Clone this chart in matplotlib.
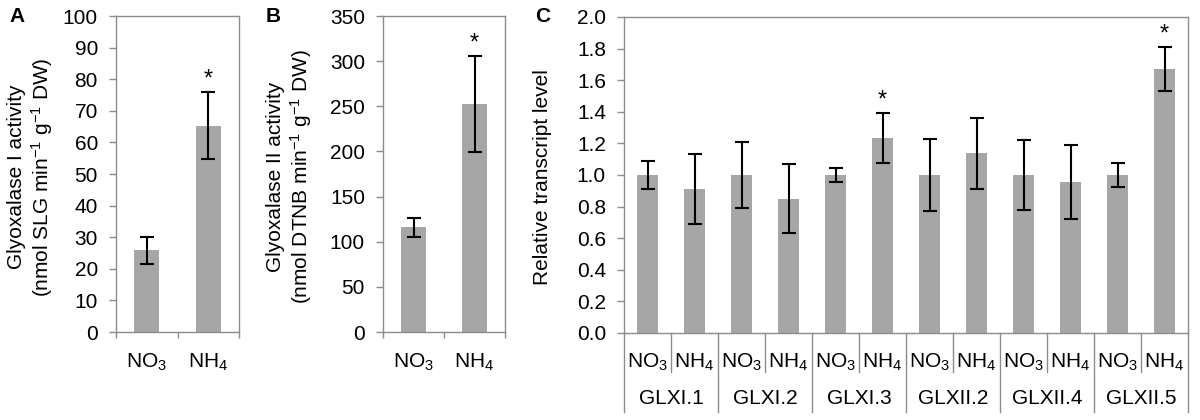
import numpy as np
import matplotlib
matplotlib.use('Agg')
import matplotlib.pyplot as plt

plt.rcParams['font.family'] = ['Liberation Sans', 'DejaVu Sans']
plt.rcParams['mathtext.fontset'] = 'custom'
plt.rcParams['mathtext.rm'] = 'Liberation Sans'
plt.rcParams['mathtext.it'] = 'Liberation Sans'
plt.rcParams['font.size'] = 15

# data
treatments = ['NO$_3$', 'NH$_4$']
glx1_activity = [25.8, 65.3]
glx1_err = [4.2, 10.7]
glx2_activity = [115.8, 252.7]
glx2_err = [10.2, 53.0]
glx1_signif = [False, True]
glx2_signif = [False, True]

genes = ['GLXI.1', 'GLXI.2', 'GLXI.3', 'GLXII.2', 'GLXII.4', 'GLXII.5']
transcript = [1.0, 0.91, 1.0, 0.85, 1.0, 1.236, 1.0, 1.137, 1.0, 0.956, 1.0, 1.669]
transcript_err = [0.09, 0.22, 0.21, 0.22, 0.045, 0.157, 0.225, 0.224, 0.222, 0.235, 0.075, 0.14]
transcript_signif = [False, False, False, False, False, True, False, False, False, False, False, True]

bar_color = '#a6a6a6'
spine_color = '#8c8c8c'

W, H = 1200, 420
fig = plt.figure(figsize=(12, 4.2), dpi=100)
axA = fig.add_axes([116 / W, 1 - 332 / H, 123 / W, 316 / H])
axB = fig.add_axes([383 / W, 1 - 332 / H, 122 / W, 316 / H])
axC = fig.add_axes([624 / W, 1 - 333 / H, 564 / W, 316 / H])


def style_axes(ax):
    for sp in ax.spines.values():
        sp.set_color(spine_color)
        sp.set_linewidth(1.0)
    ax.tick_params(axis='y', direction='out', length=5, color=spine_color, width=1.0, pad=8)


def star(ax, x, top, offset=1):
    ax.annotate('*', xy=(x, top), xytext=(0, offset), textcoords='offset points',
                ha='center', va='bottom', fontsize=17)


def draw_errors(ax, x, vals, errs):
    ax.errorbar(x, vals, yerr=errs, fmt='none', ecolor='black', elinewidth=1.5,
                capsize=4.7, capthick=1.5, zorder=3)


def activity_panel(ax, vals, errs, signif, ymax, step):
    x = np.arange(len(vals))
    ax.bar(x, vals, width=0.4, color=bar_color, zorder=2)
    draw_errors(ax, x, vals, errs)
    for i in range(len(vals)):
        if signif[i]:
            star(ax, x[i], vals[i] + errs[i])
    ax.set_xlim(-0.5, len(vals) - 0.5)
    ax.set_ylim(0, ymax)
    ax.set_yticks(np.arange(0, ymax + step / 2, step))
    ax.set_xticks(np.arange(-0.5, len(vals), 1.0))
    ax.set_xticklabels([])
    ax.tick_params(axis='x', direction='out', length=4, color=spine_color, width=1.0)
    for i, lab in enumerate(treatments):
        ax.text(x[i], -0.095, lab, transform=ax.get_xaxis_transform(),
                ha='center', va='center')
    style_axes(ax)


activity_panel(axA, glx1_activity, glx1_err, glx1_signif, 100, 10)
activity_panel(axB, glx2_activity, glx2_err, glx2_signif, 350, 50)

# panel C
n = len(transcript)
xc = np.arange(n)
axC.bar(xc, transcript, width=0.46, color=bar_color, zorder=2)
draw_errors(axC, xc, transcript, transcript_err)
for i in range(n):
    if transcript_signif[i]:
        star(axC, xc[i], transcript[i] + transcript_err[i])
axC.set_xlim(-0.5, n - 0.5)
axC.set_ylim(0, 2.0)
ticks = np.arange(0, 2.01, 0.2)
axC.set_yticks(ticks)
axC.set_yticklabels(['%.1f' % v for v in ticks])
axC.set_xticks([])
style_axes(axC)

trans = axC.get_xaxis_transform()
for i in range(n):
    axC.text(xc[i], -0.092, treatments[i % 2], transform=trans,
             ha='center', va='center')
for g, name in enumerate(genes):
    axC.text(2 * g + 0.5, -0.206, name, transform=trans,
             ha='center', va='center')
for b in np.arange(-0.5, n, 1.0):
    k = int(round(b + 0.5))
    bottom = -0.25 if k % 2 == 0 else -0.123
    axC.plot([b, b], [0, bottom], transform=trans, color=spine_color,
             lw=1.0, clip_on=False)

# y axis titles
ylabels = [
    (31, 'Glyoxalase I activity\n(nmol SLG min$^{-1}$ g$^{-1}$ DW)'),
    (290, 'Glyoxalase II activity\n(nmol DTNB min$^{-1}$ g$^{-1}$ DW)'),
    (542, 'Relative transcript level'),
]
for xp, txt in ylabels:
    fig.text(xp / W, 1 - 177 / H, txt, rotation=90, ha='center', va='center',
             linespacing=1.15)

# panel letters
for lab, xp in [('A', 17), ('B', 273), ('C', 543)]:
    fig.text(xp / W, 1 - 17 / H, lab, fontsize=15, fontweight='bold',
             ha='center', va='center')

fig.savefig('out.png', dpi=100)
